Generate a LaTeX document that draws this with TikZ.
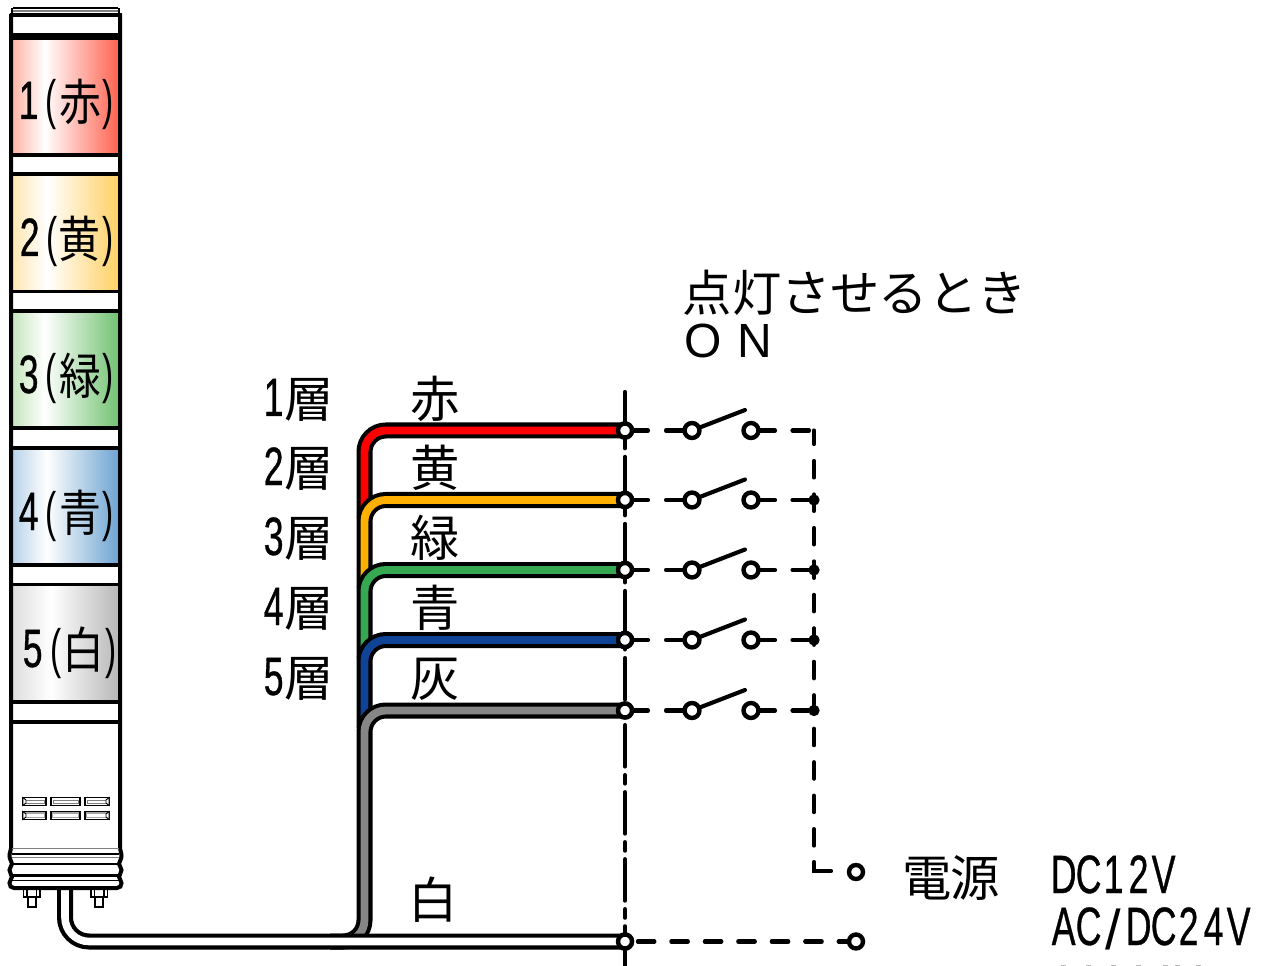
\documentclass[tikz,border=0pt]{standalone}
\usepackage{fontspec}
\newfontfamily\jpf{Noto Sans CJK JP}
\newfontfamily\jpt[FakeStretch=.85]{Noto Sans CJK JP}
\newfontfamily\latf[FakeStretch=.66,FakeBold=.6]{Liberation Sans}
\newfontfamily\latp[FakeStretch=.62]{Liberation Sans}
\newfontfamily\latw{Liberation Sans}
\newcommand\fj{\jpf\fontsize{37}{37}\selectfont}
\newcommand\ft{\jpt\fontsize{37}{37}\selectfont}
\newcommand\fl{\latf\fontsize{40.5}{40.5}\selectfont}
\newcommand\fp{\latp\fontsize{40.5}{40.5}\selectfont}
\newcommand\atx[2]{\hbox to 0pt{\hskip #1\dimexpr.75pt\relax\hbox to 0pt{\hss #2\hss}\hss}}
\newcommand\dn[1]{\raisebox{-1.4pt}{#1}}
\definecolor{wred}{HTML}{FF0000}
\definecolor{wamber}{HTML}{FFB000}
\definecolor{wgreen}{HTML}{36A852}
\definecolor{wblue}{HTML}{0F4396}
\definecolor{wgray}{HTML}{868686}
\definecolor{lr}{HTML}{FFB5A5}\definecolor{rr}{HTML}{FF6350}
\definecolor{ly}{HTML}{FFE6B4}\definecolor{ry}{HTML}{FFD064}
\definecolor{lg}{HTML}{C6E6BE}\definecolor{rg}{HTML}{72C272}
\definecolor{lb}{HTML}{BAD3EA}\definecolor{rb}{HTML}{6EA4D2}
\definecolor{lw}{HTML}{DEDEDE}\definecolor{rw}{HTML}{B8B8B8}
\pgfdeclarehorizontalshading{shr}{100bp}{color(0bp)=(lr); color(25bp)=(lr); color(40bp)=(white); color(75bp)=(rr); color(100bp)=(rr)}
\pgfdeclarehorizontalshading{shy}{100bp}{color(0bp)=(ly); color(25bp)=(ly); color(41bp)=(white); color(75bp)=(ry); color(100bp)=(ry)}
\pgfdeclarehorizontalshading{shg}{100bp}{color(0bp)=(lg); color(25bp)=(lg); color(40bp)=(white); color(75bp)=(rg); color(100bp)=(rg)}
\pgfdeclarehorizontalshading{shb}{100bp}{color(0bp)=(lb); color(25bp)=(lb); color(41bp)=(white); color(75bp)=(rb); color(100bp)=(rb)}
\pgfdeclarehorizontalshading{shw}{100bp}{color(0bp)=(lw); color(25bp)=(lw); color(43bp)=(white); color(75bp)=(rw); color(100bp)=(rw)}
\tikzset{
  wireout/.style={line width=12pt,draw=black,rounded corners=16pt},
  wirein/.style={line width=5.9pt,rounded corners=16pt},
  term/.style={circle,draw=black,fill=white,line width=3.3pt,minimum size=10.5pt,inner sep=0pt,outer sep=0pt},
  swterm/.style={term,minimum size=11.2pt},
  jdot/.style={circle,fill=black,minimum size=8.5pt,inner sep=0pt,outer sep=0pt},
  txt/.style={inner sep=0pt,outer sep=0pt,anchor=base west},
  cond/.style={line width=3.1pt,draw=black,line cap=round},
  band/.style={fill=black,draw=none},
  fine/.style={line width=.95pt,draw=black},
}
\begin{document}
\begin{tikzpicture}[x=.75pt,y=-.75pt]
\useasboundingbox (0,0) rectangle (1265,966);
% tower body
\fill[white] (11,10) rectangle (120,888);
\foreach \sh/\a/\b in {shr/40/153.5,shy/176/290.5,shg/313/427,shb/450/563.5,shw/586/700.5}
  \shade[shading=\sh] (13,\a) rectangle (118.5,\b);
\foreach \a/\b in {13/17,33.5/40,153/157,172/176.5,290/293.5,309.5/313,426.5/430,446/450,563/566.5,582.5/586,700/704,720/723.5}
  \fill[band] (9.5,\a) rectangle (121.5,\b);
\draw[line width=1.6pt] (13,8) -- (118,8);
\draw[line width=.8pt,gray] (13,11) -- (118,11);
\draw[line width=1.2pt] (12,8) -- (12,14) (119,8) -- (119,14);
% nodes of the wiring
\coordinate (cabletop) at (65,880);
\node[term] (t6) at (625,941.5) {};
\foreach \i/\y in {1/430.5,2/500,3/570,4/640,5/710.5}
  \node[term] (t\i) at (625,\y) {};
\coordinate (e1) at (364.5,518);
\coordinate (e2) at (364.5,588);
\coordinate (e3) at (364.5,658);
\coordinate (e4) at (364.5,728);
\coordinate (e5) at (330,941.5);
\coordinate (k5) at (364.5,941.5);
% coloured wires
\foreach \i/\c in {1/wred,2/wamber,3/wgreen,4/wblue}{
  \draw[wireout] (t\i.center) -| (e\i);
  \draw[wirein,draw=\c] (t\i.center) -| (e\i);
}
\draw[wireout] (t5.center) -| (k5) -- (e5);
\draw[wirein,draw=wgray] (t5.center) -| (k5) -- (e5);
\draw[line width=12pt,rounded corners=18pt] (t6.center) -| (cabletop);
\draw[line width=5.7pt,white,rounded corners=18pt] (t6.center) -| (cabletop);
% tower base
\fill[white] (11,724) rectangle (120,888);
\foreach \xa/\xb in {23/46,51/80,85/109}{
  \fill[gray!70] (\xa,811.5) rectangle (\xb,817.5);
  \fill[white] (\xa+2,813.5) rectangle (\xb-2,816.5);
  \draw[fine] (\xa,797.5) rectangle (\xb,805.5);
  \draw[line width=.7pt,gray] (\xa+2,800) rectangle (\xb-2,803);
  \draw[fine] (\xa,811.5) rectangle (\xb,819.5);
}
\foreach \y in {797.5,811.5}{
  \filldraw[fill=white,line width=.7pt] (23,\y) -- (26,\y+2.5) -- (26,\y+5.5) -- (23,\y+8) -- cycle;
  \filldraw[fill=white,line width=.7pt] (109,\y) -- (106,\y+2.5) -- (106,\y+5.5) -- (109,\y+8) -- cycle;
}
\draw[line width=3pt] (11,14) -- (11,848) .. controls (11,851) and (9.5,852) .. (9.5,856) .. controls (9.5,860) and (12,861) .. (12,864) .. controls (12,866) and (9.5,867) .. (9.5,870) .. controls (9.5,873) and (12,875) .. (12,877) .. controls (12,879) and (9.5,880) .. (9.5,883) .. controls (9.5,886) and (11,888) .. (14,888) -- (117,888) .. controls (120,888) and (121.5,886) .. (121.5,883) .. controls (121.5,880) and (119,879) .. (119,877) .. controls (119,875) and (121.5,873) .. (121.5,870) .. controls (121.5,867) and (119,866) .. (119,864) .. controls (119,861) and (121.5,860) .. (121.5,856) .. controls (121.5,852) and (120,851) .. (120,848) -- (120,14);
\draw[line width=.7pt,gray] (12,848.5) -- (119,848.5);
\draw[line width=1.1pt] (12,854) -- (119,854);
\draw[line width=.7pt,gray] (12,857.5) -- (119,857.5);
\draw[line width=1.8pt] (12,864) -- (119,864);
\draw[line width=1.6pt] (12,875.5) -- (119,875.5);
\draw[line width=1.2pt] (12,880.5) -- (119,880.5);
% bolts
\draw[fine] (23.5,889) -- (23.5,897) -- (40,897) -- (40,889) (27,889) -- (27,897) (36.5,889) -- (36.5,897);
\draw[fine] (28,897) rectangle (36,907);
\draw[fine] (91,889) -- (91,897) -- (107.5,897) -- (107.5,889) (94.5,889) -- (94.5,897) (104,889) -- (104,897);
\draw[fine] (95,897) rectangle (103,907);
% bus
\coordinate (bustop) at (625,392);
\coordinate (busbot) at (625,966);
\draw[cond,line width=3.1pt,dash pattern=on 31.1pt off 6.4pt on 6.4pt off 6.4pt,dash phase=1.7pt] (bustop) -- (busbot);
\foreach \i in {1,...,6}
  \node[term] at (t\i) {};
% right-hand bus
\coordinate (c1) at (814,430.5);
\coordinate (c1h) at (809,430.5);
\foreach \i/\y in {2/500,3/570,4/640,5/710.5}
  \node[jdot] (j\i) at (814,\y) {};
\coordinate (c6a) at (814,846);
\coordinate (c6b) at (814,862);
\coordinate (c6) at (814,871);
\coordinate (c6c) at (831,871);
\node[term] (p1) at (856,872) {};
\node[term] (p2) at (856,941.5) {};
\draw[cond,dash pattern=on 12.4pt off 12.7pt,dash phase=2.25pt] (c1) -- (c6a);
\draw[cond] (c6b) -- (c6) -- (c6c);
\draw[cond,dash pattern=on 12.4pt off 12.7pt,dash phase=20.7pt] (t6.east) -- (p2.west);
% switches
\foreach \i/\y/\e in {1/430.5/c1h,2/500/j2,3/570/j3,4/640/j4,5/710.5/j5}{
  \node[swterm] (sa\i) at (692,\y) {};
  \node[swterm] (sb\i) at (751,\y) {};
  \coordinate (bl\i) at (745,\y-20.5);
  \draw[cond,dash pattern=on 12pt off 13.5pt on 15pt off 30pt] (t\i.east) -- (sa\i.west);
  \draw[cond,dash pattern=on 12.4pt off 13.1pt on 30pt off 30pt] (sb\i.east) -- (\e);
  \draw[cond] (sa\i) -- (bl\i);
}
% texts
\node[txt] (title) at (0,311.5) {\fj\atx{707}{点}\atx{756}{灯}\atx{805}{さ}\atx{854}{せ}\atx{903}{る}\atx{952}{と}\atx{1001}{き}};
\node[txt] (on) at (0,358) {\latw\fontsize{36}{36}\selectfont\atx{703}{O}\atx{754}{N}};
\foreach \n/\k/\y in {1/赤/416,2/黄/485,3/緑/555,4/青/625,5/灰/695}{
  \node[txt] (lay\n) at (0,\y) {\atx{273}{\fl\n}\atx{309}{\dn{\fj 層}}};
  \node[txt] (col\n) at (0,\y) {\atx{435}{\dn{\fj\k}}};
}
\node[txt] (col6) at (0,918.5) {\atx{433}{\fj 白}};
\node[txt] (tw1) at (0,119) {\atx{28}{\fl 1}\atx{50}{\fp(}\atx{80}{\dn{\ft 赤}}\atx{107}{\fp)}};
\node[txt] (tw2) at (0,256) {\atx{29}{\fl 2}\atx{51}{\fp(}\atx{79}{\dn{\ft 黄}}\atx{107}{\fp)}};
\node[txt] (tw3) at (0,393) {\atx{28}{\fl 3}\atx{50}{\fp(}\atx{80}{\dn{\ft 緑}}\atx{107}{\fp)}};
\node[txt] (tw4) at (0,530) {\atx{28}{\fl 4}\atx{50}{\fp(}\atx{80}{\dn{\ft 青}}\atx{107}{\fp)}};
\node[txt] (tw5) at (0,667) {\atx{32}{\fl 5}\atx{55}{\fp(}\atx{83}{\dn{\ft 白}}\atx{110}{\fp)}};
\node[txt] (den) at (0,896.5) {\fj\atx{927}{電}\atx{975}{源}};
\node[txt] (v1) at (0,893) {\fl\atx{1063}{D}\atx{1088}{C}\atx{1113}{1}\atx{1138}{2}\atx{1163}{V}};
\node[txt] (v2) at (0,945) {\fl\atx{1063}{A}\atx{1088}{C}\atx{1113}{\raisebox{-3.5pt}{\latw\fontsize{42}{42}\selectfont/}}\atx{1138}{D}\atx{1163}{C}\atx{1188}{2}\atx{1213}{4}\atx{1238}{V}};
\foreach \x in {1063,1088,1113,1138,1165,1177,1198}
  \fill[gray!55] (\x-2.5,964.5) rectangle (\x+2.5,966);
\end{tikzpicture}
\end{document}
